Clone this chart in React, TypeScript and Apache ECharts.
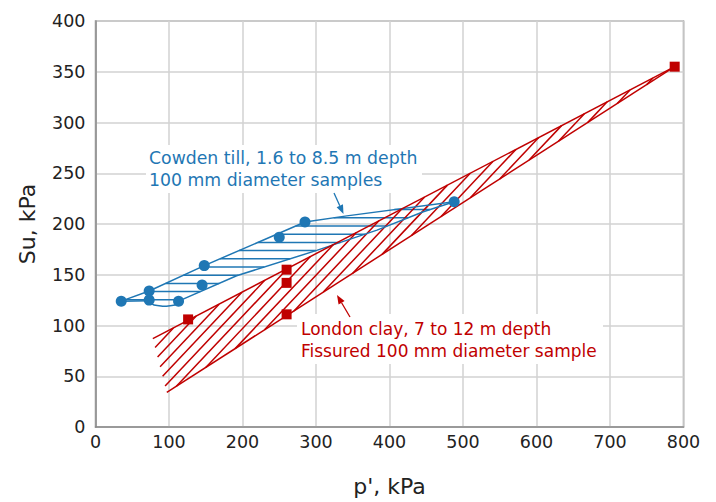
import React, { useEffect, useRef } from "react";
import * as echarts from "echarts";

// Cowden till samples (circles)
const blueX = [35, 73, 73, 113, 145, 148, 250, 285, 488];
const blueY = [124, 134, 125, 124, 140, 159, 187, 202, 222];
// London clay samples (squares)
const redX = [126, 260, 260, 260, 788];
const redY = [106, 155, 142, 111, 355];

// envelopes
const blueUpperX = [35, 73, 148, 285, 342, 488];
const blueUpperY = [124, 134, 159, 202, 208, 222];
const blueLowerX = [113, 192, 301, 383, 446, 488];
const blueLowerY = [124, 149, 174, 194, 212, 222];
const blueBaseX = [35, 73];
const blueBaseY = [124, 124.5];
const blueArcX = [75, 84, 94, 104, 112];
const blueArcY = [122, 119.6, 119, 119.6, 122];

const redUpperX = [78, 788];
const redUpperY = [87, 355];
const redLowerX = [97, 788];
const redLowerY = [34, 355];

const BLUE = "#1f77b4";
const RED = "#c00000";
const FONT = "DejaVu Sans";

const zip = (xs: number[], ys: number[]) => xs.map((x, i) => [x, ys[i]]);

function hatch(
  poly: number[][],
  nx: number,
  ny: number,
  step: number,
  phase: number,
  color: string
) {
  const proj = poly.map((p) => p[0] * nx + p[1] * ny);
  const cmin = Math.min(...proj);
  const cmax = Math.max(...proj);
  const segs: any[] = [];
  const k0 = Math.ceil((cmin - phase) / step);
  for (let k = k0; phase + k * step < cmax; k++) {
    const c = phase + k * step;
    const pts: number[][] = [];
    for (let i = 0; i < poly.length; i++) {
      const j = (i + 1) % poly.length;
      const a = poly[i];
      const b = poly[j];
      const pa = proj[i];
      const pb = proj[j];
      if ((pa - c) * (pb - c) < 0) {
        const t = (c - pa) / (pb - pa);
        pts.push([a[0] + t * (b[0] - a[0]), a[1] + t * (b[1] - a[1])]);
      }
    }
    pts.sort((p, q) => (-ny * p[0] + nx * p[1]) - (-ny * q[0] + nx * q[1]));
    for (let m = 0; m + 1 < pts.length; m += 2) {
      segs.push({
        type: "line",
        shape: { x1: pts[m][0], y1: pts[m][1], x2: pts[m + 1][0], y2: pts[m + 1][1] },
        style: { stroke: color, lineWidth: 1.5 },
      });
    }
  }
  return segs;
}

function arrow(tail: number[], tip: number[], color: string) {
  const dx = tip[0] - tail[0];
  const dy = tip[1] - tail[1];
  const len = Math.hypot(dx, dy);
  const ux = dx / len;
  const uy = dy / len;
  const bx = tip[0] - ux * 9;
  const by = tip[1] - uy * 9;
  return [
    {
      type: "line",
      z: 10,
      shape: { x1: tail[0], y1: tail[1], x2: bx, y2: by },
      style: { stroke: color, lineWidth: 1.3 },
    },
    {
      type: "polygon",
      z: 10,
      shape: {
        points: [
          [tip[0], tip[1]],
          [bx - uy * 3.5, by + ux * 3.5],
          [bx + uy * 3.5, by - ux * 3.5],
        ],
      },
      style: { fill: color },
    },
  ];
}

export default function App() {
  const ref = useRef<HTMLDivElement>(null);
  useEffect(() => {
    const chart = echarts.init(ref.current!, null, { renderer: "svg" });
    const bluePoly = [
      ...zip(blueUpperX, blueUpperY),
      ...zip(blueLowerX, blueLowerY).reverse().slice(1),
      ...zip(blueArcX, blueArcY).reverse(),
    ];
    const redPoly = [
      [redUpperX[0], redUpperY[0]],
      [redUpperX[1], redUpperY[1]],
      [redLowerX[0], redLowerY[0]],
    ];
    const lineSeries = (xs: number[], ys: number[], color: string, smooth = false) => ({
      type: "line",
      data: zip(xs, ys),
      showSymbol: false,
      symbol: "none",
      smooth,
      smoothMonotone: "x",
      z: 3,
      lineStyle: { color, width: 1.5 },
      silent: true,
    });
    const option: any = {
      animation: false,
      backgroundColor: "#fff",
      grid: {
        left: 95.5,
        right: 32.5,
        top: 21,
        bottom: 73.4,
        show: true,
        borderColor: "#9a9a9a",
        borderWidth: 1.5,
      },
      xAxis: {
        type: "value",
        min: 0,
        max: 800,
        interval: 100,
        axisLine: { show: true, lineStyle: { color: "#8a8a8a", width: 1.5 } },
        axisTick: { show: false },
        splitLine: { show: true, lineStyle: { color: "#d2d2d2", width: 1.5 } },
        axisLabel: { color: "#222", fontSize: 17.5, fontFamily: FONT, margin: 6 },
        name: "p', kPa",
        nameLocation: "middle",
        nameGap: 48,
        nameTextStyle: { color: "#222", fontSize: 22, fontFamily: FONT },
      },
      yAxis: {
        type: "value",
        min: 0,
        max: 400,
        interval: 50,
        axisLine: { show: true, lineStyle: { color: "#8a8a8a", width: 1.5 } },
        axisTick: { show: false },
        splitLine: { show: true, lineStyle: { color: "#d2d2d2", width: 1.5 } },
        axisLabel: { color: "#222", fontSize: 17.5, fontFamily: FONT, margin: 10 },
        name: "Su, kPa",
        nameLocation: "middle",
        nameGap: 57,
        nameTextStyle: { color: "#222", fontSize: 22, fontFamily: FONT },
      },
      series: [
        {
          type: "custom",
          coordinateSystem: "cartesian2d",
          data: [[blueX[0], blueY[0]]],
          z: 2,
          silent: true,
          renderItem: (_p: any, api: any) => {
            const bp = bluePoly.map((p) => api.coord(p));
            const rp = redPoly.map((p) => api.coord(p));
            return {
              type: "group",
              children: [
                ...hatch(bp, 0, 1, 8.2, 226 % 8.2, BLUE),
                ...hatch(rp, 1.06, 1, 12.3, 561 % 12.3, RED),
              ],
            };
          },
        },
        lineSeries(blueUpperX, blueUpperY, BLUE, false),
        lineSeries(blueLowerX, blueLowerY, BLUE, false),
        lineSeries(blueBaseX, blueBaseY, BLUE, false),
        lineSeries(blueArcX, blueArcY, BLUE, true),
        lineSeries(redUpperX, redUpperY, RED, false),
        lineSeries(redLowerX, redLowerY, RED, false),
        {
          type: "scatter",
          data: zip(blueX, blueY),
          symbol: "circle",
          symbolSize: 11,
          z: 5,
          itemStyle: { color: BLUE, opacity: 1 },
        },
        {
          type: "scatter",
          data: zip(redX, redY),
          symbol: "rect",
          symbolSize: 10,
          z: 5,
          itemStyle: { color: RED, opacity: 1 },
        },
      ],
      graphic: [
        { type: "rect", z: 1, shape: { x: 146, y: 145, width: 276, height: 48 }, style: { fill: "#fff" } },
        { type: "rect", z: 1, shape: { x: 297, y: 314, width: 306, height: 50 }, style: { fill: "#fff" } },
        {
          type: "text",
          z: 10,
          style: { x: 149, y: 149, text: "Cowden till, 1.6 to 8.5 m depth", fill: BLUE, font: `17.3px "${FONT}"`, verticalAlign: "top" },
        },
        {
          type: "text",
          z: 10,
          style: { x: 149, y: 171.5, text: "100 mm diameter samples", fill: BLUE, font: `17.3px "${FONT}"`, verticalAlign: "top" },
        },
        {
          type: "text",
          z: 10,
          style: { x: 301, y: 320, text: "London clay, 7 to 12 m depth", fill: RED, font: `17px "${FONT}"`, verticalAlign: "top" },
        },
        {
          type: "text",
          z: 10,
          style: { x: 301, y: 342.5, text: "Fissured 100 mm diameter sample", fill: RED, font: `17px "${FONT}"`, verticalAlign: "top" },
        },
        ...arrow([334, 193], [343.5, 214], BLUE),
        ...arrow([350, 317], [337, 295], RED),
      ],
    };
    chart.setOption(option);
    return () => chart.dispose();
  }, []);
  return (
    <div
      ref={ref}
      style={{ position: "absolute", left: 0, top: 0, width: 716, height: 502, background: "#fff" }}
    />
  );
}
